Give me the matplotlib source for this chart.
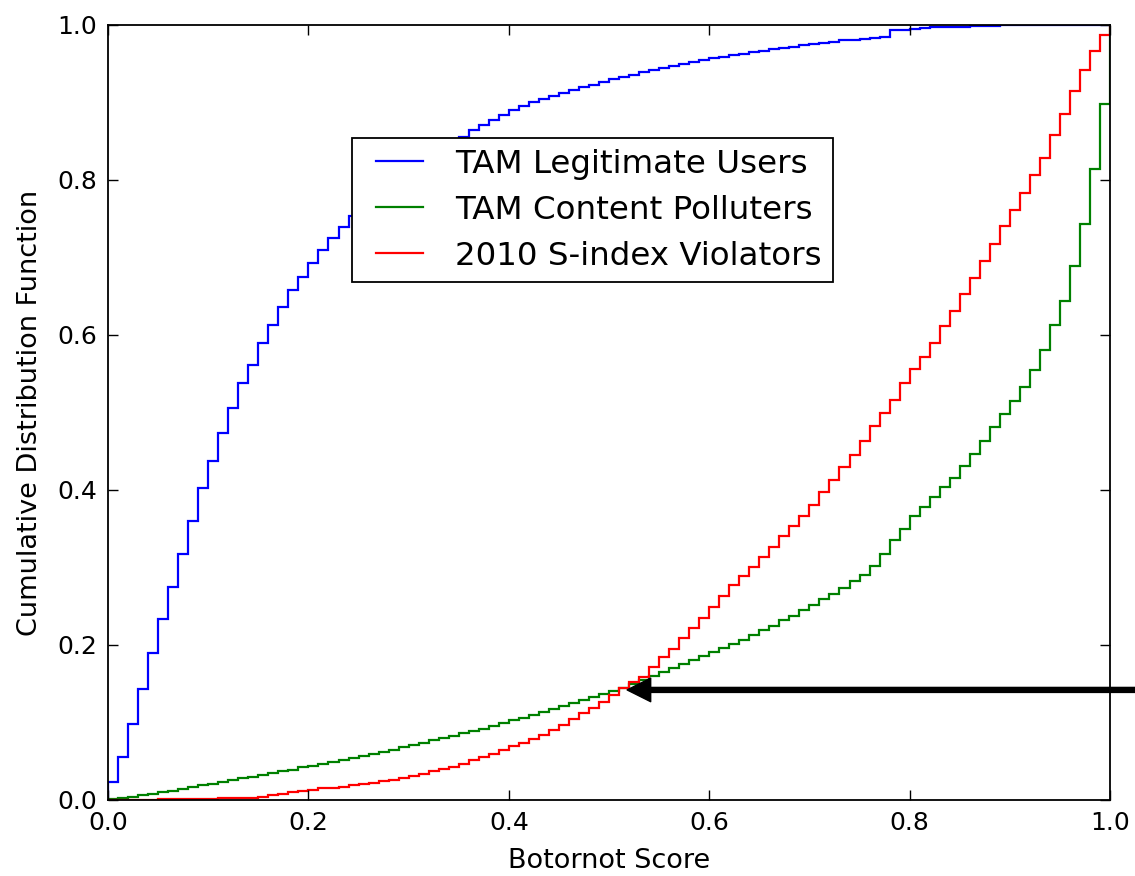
import numpy as np
import matplotlib
matplotlib.use("Agg")
import matplotlib.pyplot as plt
from matplotlib.lines import Line2D
from matplotlib.legend_handler import HandlerLine2D

# --- DATA: cumulative share per 0.01-wide score bin (last bin holds score == 1.0) ---

bin_edges = np.linspace(0.0, 1.01, 102)

legit_cdf = [
    0.023, 0.056, 0.098, 0.143, 0.190, 0.234, 0.275, 0.318, 0.360, 0.402,
    0.438, 0.473, 0.506, 0.538, 0.561, 0.589, 0.613, 0.636, 0.658, 0.675,
    0.693, 0.710, 0.725, 0.739, 0.753, 0.765, 0.776, 0.787, 0.798, 0.808,
    0.818, 0.827, 0.835, 0.842, 0.849, 0.856, 0.864, 0.871, 0.878, 0.884,
    0.890, 0.895, 0.900, 0.904, 0.908, 0.912, 0.916, 0.920, 0.923, 0.927,
    0.930, 0.933, 0.936, 0.939, 0.942, 0.945, 0.947, 0.950, 0.952, 0.955,
    0.957, 0.959, 0.961, 0.963, 0.965, 0.967, 0.969, 0.970, 0.972, 0.974,
    0.975, 0.977, 0.978, 0.980, 0.981, 0.982, 0.983, 0.985, 0.993, 0.994,
    0.995, 0.996, 0.997, 0.997, 0.998, 0.998, 0.999, 0.999, 0.999, 1.000,
    1.000, 1.000, 1.000, 1.000, 1.000, 1.000, 1.000, 1.000, 1.000, 1.000,
    1.000,
]

polluter_cdf = [
    0.001, 0.002, 0.004, 0.006, 0.008, 0.010, 0.012, 0.014, 0.017, 0.019,
    0.021, 0.023, 0.026, 0.028, 0.030, 0.032, 0.035, 0.037, 0.039, 0.042,
    0.044, 0.047, 0.049, 0.052, 0.054, 0.057, 0.059, 0.062, 0.065, 0.068,
    0.071, 0.074, 0.077, 0.080, 0.083, 0.086, 0.089, 0.092, 0.096, 0.099,
    0.103, 0.106, 0.110, 0.113, 0.117, 0.121, 0.125, 0.129, 0.133, 0.137,
    0.141, 0.145, 0.150, 0.155, 0.160, 0.165, 0.170, 0.176, 0.181, 0.186,
    0.191, 0.196, 0.201, 0.207, 0.213, 0.219, 0.225, 0.232, 0.238, 0.245,
    0.252, 0.259, 0.266, 0.274, 0.282, 0.290, 0.302, 0.318, 0.336, 0.350,
    0.366, 0.378, 0.391, 0.404, 0.416, 0.431, 0.447, 0.463, 0.481, 0.498,
    0.515, 0.533, 0.555, 0.581, 0.613, 0.644, 0.689, 0.743, 0.814, 0.898,
    1.000,
]

violator_cdf = [
    0.000, 0.000, 0.000, 0.000, 0.000, 0.001, 0.001, 0.001, 0.001, 0.001,
    0.001, 0.002, 0.002, 0.002, 0.003, 0.004, 0.006, 0.008, 0.010, 0.012,
    0.013, 0.015, 0.016, 0.017, 0.019, 0.020, 0.022, 0.024, 0.026, 0.028,
    0.031, 0.034, 0.037, 0.040, 0.043, 0.047, 0.051, 0.055, 0.059, 0.064,
    0.069, 0.074, 0.079, 0.084, 0.090, 0.097, 0.104, 0.112, 0.119, 0.127,
    0.135, 0.145, 0.152, 0.159, 0.172, 0.184, 0.195, 0.209, 0.222, 0.235,
    0.249, 0.263, 0.277, 0.289, 0.301, 0.314, 0.327, 0.340, 0.353, 0.367,
    0.381, 0.397, 0.413, 0.429, 0.445, 0.463, 0.482, 0.499, 0.516, 0.538,
    0.556, 0.572, 0.590, 0.611, 0.631, 0.653, 0.674, 0.696, 0.717, 0.741,
    0.761, 0.783, 0.806, 0.828, 0.858, 0.885, 0.915, 0.942, 0.967, 0.987,
    1.000,
]

series_labels = ["TAM Legitimate Users", "TAM Content Polluters", "2010 S-index Violators"]
series_colors = ["#0000ff", "#008000", "#ff0000"]

# where the arrow points (crossing of the green and red curves)
crossing_x = 0.518
crossing_y = 0.142

# --- PLOT ---

fig = plt.figure(figsize=(11.35, 8.76), dpi=100)
ax = fig.add_axes([0.0952, 0.0868, 0.8828, 0.8847])

handles = []
for vals, lab, col in zip([legit_cdf, polluter_cdf, violator_cdf], series_labels, series_colors):
    ax.stairs(vals, bin_edges, baseline=0, color=col, lw=1.6)
    handles.append(Line2D([], [], color=col, lw=1.6, label=lab))

ax.set_xlim(0, 1)
ax.set_ylim(0, 1)
ax.set_xticks(np.arange(0, 1.01, 0.2))
ax.set_yticks(np.arange(0, 1.01, 0.2))
ax.tick_params(direction="in", top=True, right=True, length=7, width=1,
               labelsize=18, pad=8)
for sp in ax.spines.values():
    sp.set_linewidth(1.3)

ax.set_xlabel("Botornot Score", fontsize=19.5, labelpad=9)
ax.set_ylabel("Cumulative Distribution Function", fontsize=19.5, labelpad=10)

leg = ax.legend(handles=handles, loc="upper left", bbox_to_anchor=(0.2435, 0.854),
                borderaxespad=0, fontsize=23.4, handlelength=1.85, handletextpad=1.0,
                labelspacing=0.46, borderpad=0.33, fancybox=False, framealpha=1,
                handler_map={Line2D: HandlerLine2D(xpad=0.4)})
leg.get_frame().set_edgecolor("black")
leg.get_frame().set_linewidth(1.3)

ax.annotate("", xy=(crossing_x, crossing_y), xytext=(1.03, crossing_y),
            xycoords="data", annotation_clip=False,
            arrowprops=dict(facecolor="black", edgecolor="black", width=3.6,
                            headwidth=17, headlength=17, shrink=0))

fig.savefig("out.png", dpi=100)
plt.close(fig)
